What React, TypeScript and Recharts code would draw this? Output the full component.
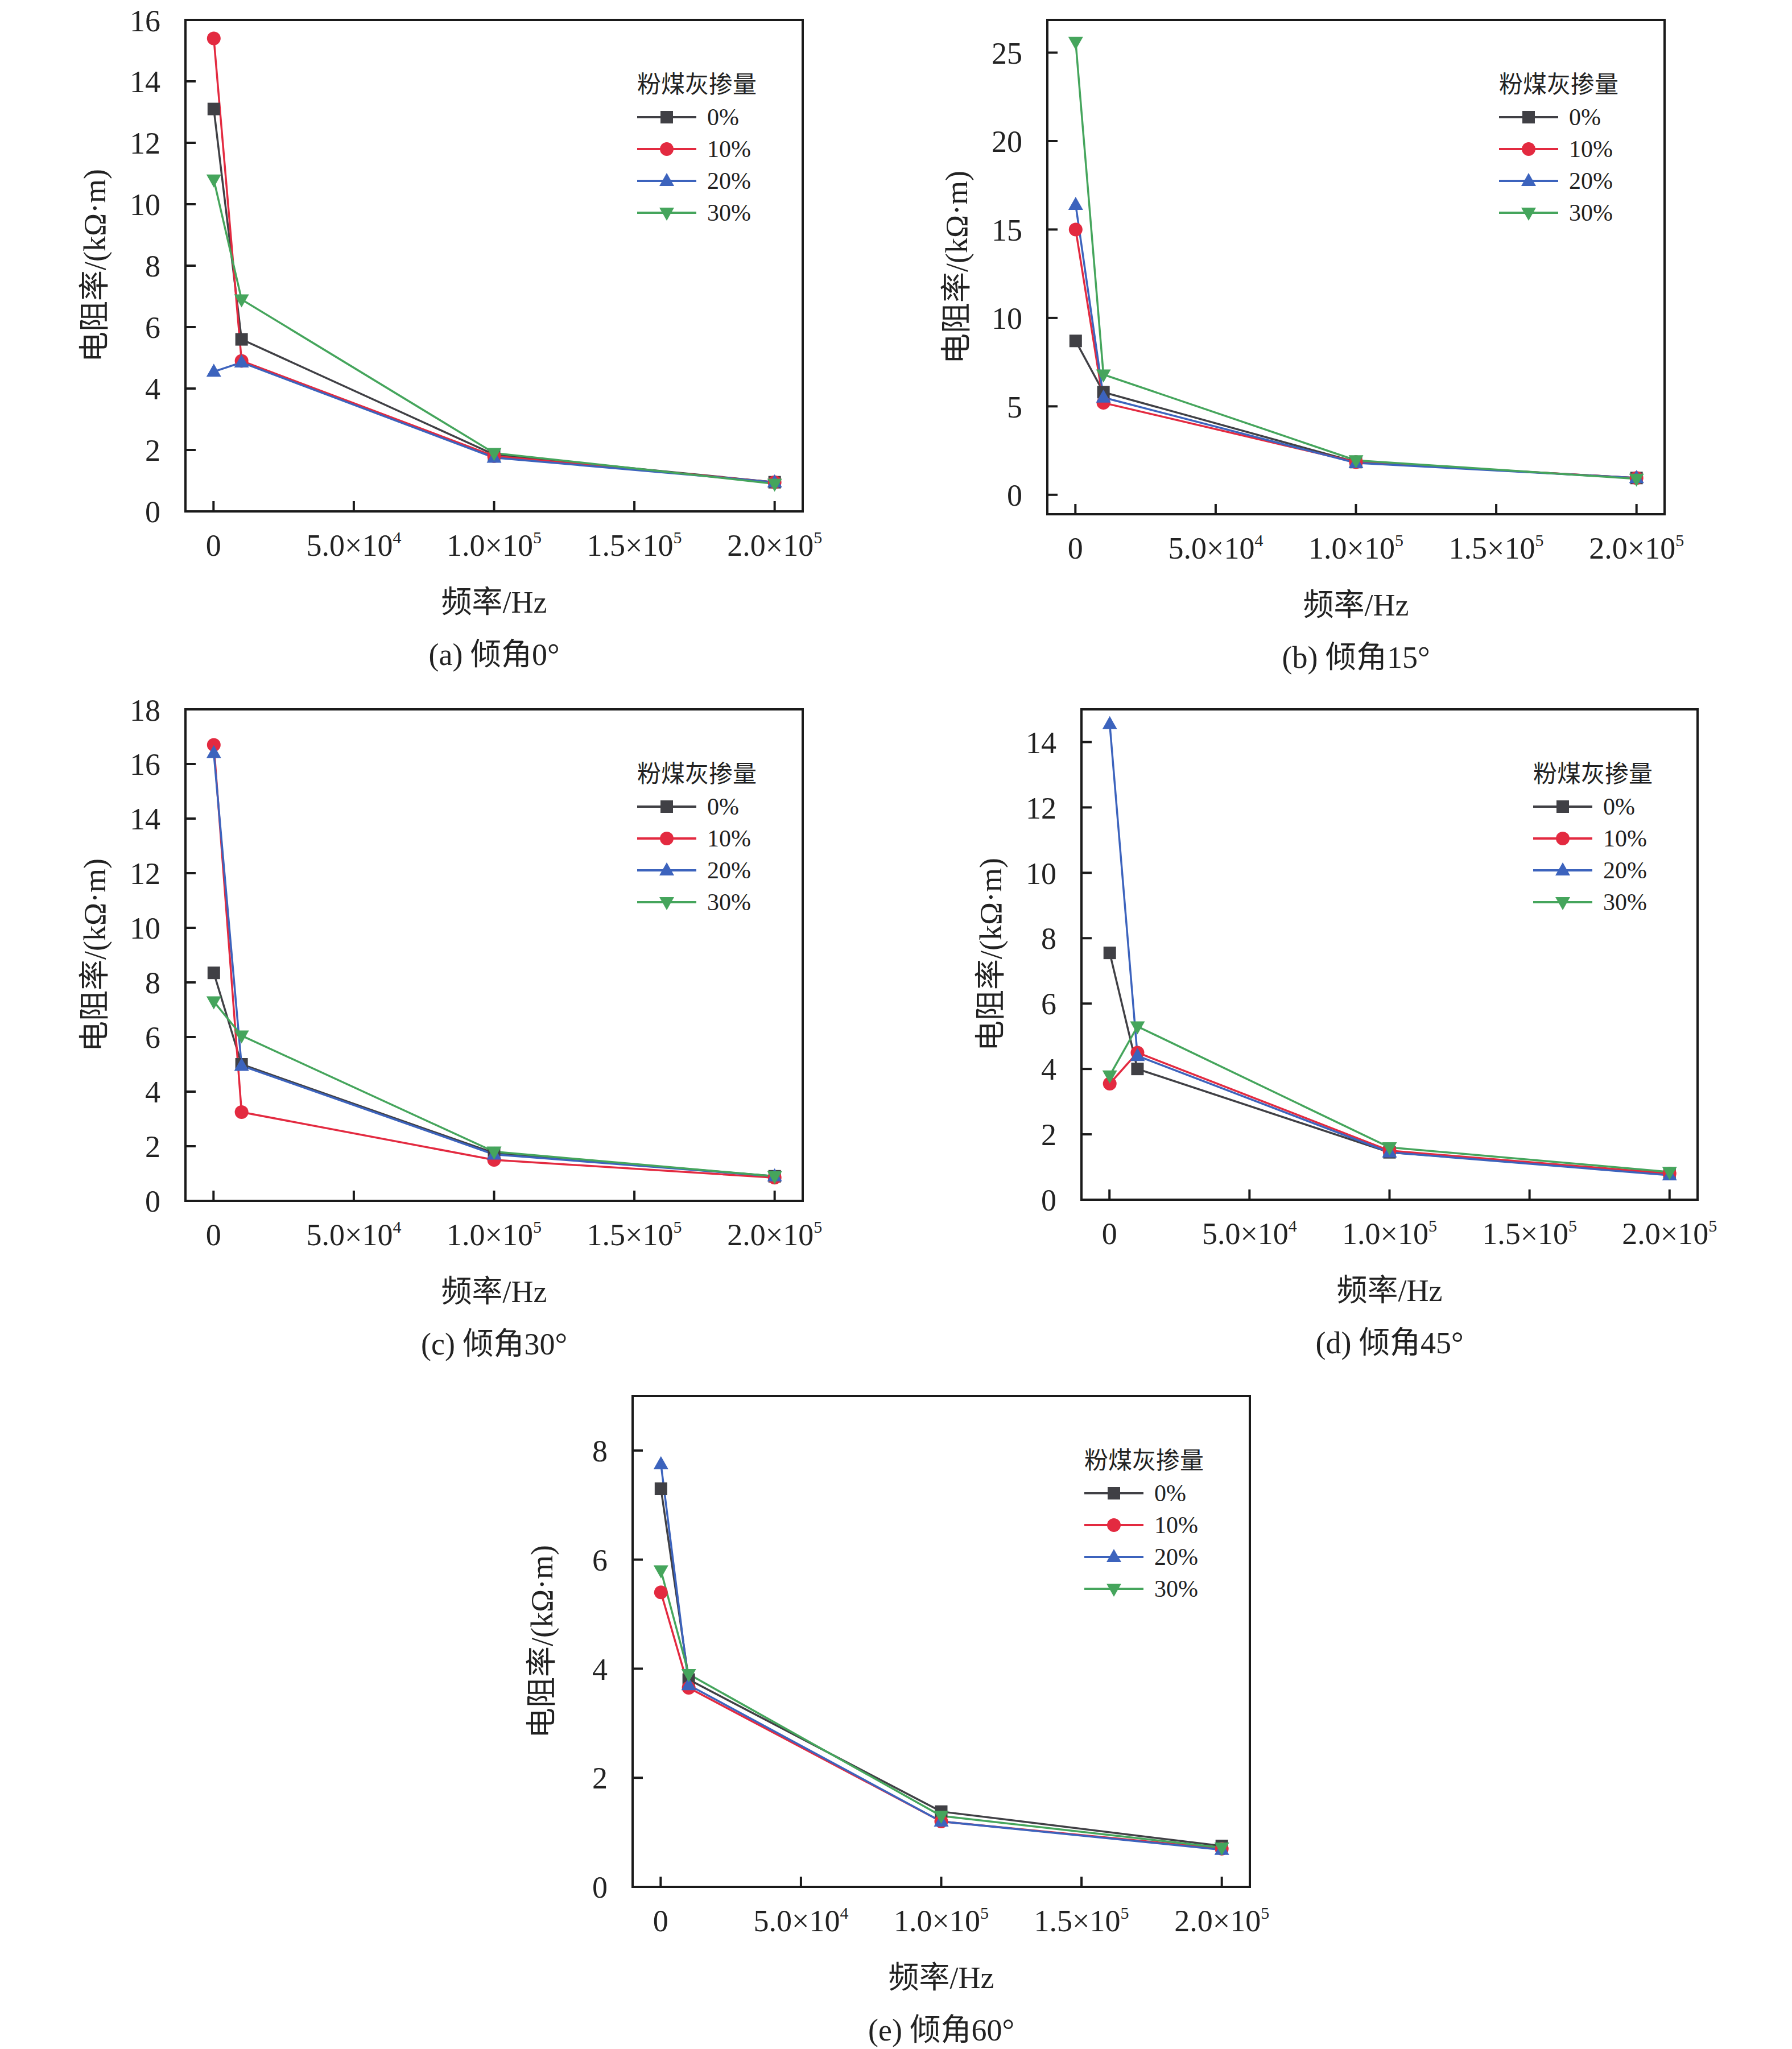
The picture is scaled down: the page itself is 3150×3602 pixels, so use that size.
import React from 'react';
import { LineChart, Line, XAxis, YAxis, ReferenceArea } from 'recharts';

// frequency points (Hz)
const FREQ = [100, 10000, 100000, 200000];
const X_TICKS = [0, 50000, 100000, 150000, 200000];

// (a) 倾角0°
const a0 = [13.1, 5.6, 1.85, 0.95];
const a10 = [15.4, 4.9, 1.8, 0.95];
const a20 = [4.55, 4.85, 1.75, 0.95];
const a30 = [10.8, 6.9, 1.9, 0.9];

// (b) 倾角15°
const b0 = [8.7, 5.8, 1.85, 0.95];
const b10 = [15.0, 5.2, 1.85, 0.95];
const b20 = [16.4, 5.5, 1.8, 0.95];
const b30 = [25.6, 6.8, 1.95, 0.9];

// (c) 倾角30°
const c0 = [8.35, 5.0, 1.75, 0.9];
const c10 = [16.7, 3.25, 1.5, 0.85];
const c20 = [16.4, 4.95, 1.7, 0.9];
const c30 = [7.3, 6.05, 1.8, 0.9];

// (d) 倾角45°
const d0 = [7.55, 4.0, 1.45, 0.8];
const d10 = [3.55, 4.5, 1.5, 0.8];
const d20 = [14.55, 4.4, 1.45, 0.75];
const d30 = [3.8, 5.3, 1.6, 0.85];

// (e) 倾角60°
const e0 = [7.3, 3.8, 1.38, 0.75];
const e10 = [5.4, 3.65, 1.2, 0.7];
const e20 = [7.75, 3.7, 1.2, 0.68];
const e30 = [5.8, 3.9, 1.3, 0.72];

const SERIES = [
  { key: 's0', name: '0%', color: '#404045', shape: 'square' },
  { key: 's10', name: '10%', color: '#e32a40', shape: 'circle' },
  { key: 's20', name: '20%', color: '#3c63bd', shape: 'up' },
  { key: 's30', name: '30%', color: '#45a55c', shape: 'down' },
];

const FONT = "'Liberation Serif', 'Noto Sans CJK SC', serif";
const TEXT = '#222';
const TICK_FS = 54;

function Marker({ cx, cy, shape, color }: any) {
  if (cx == null || cy == null) return null;
  if (shape === 'square')
    return <rect x={cx - 11} y={cy - 11} width={22} height={22} fill={color} />;
  if (shape === 'circle') return <circle cx={cx} cy={cy} r={12} fill={color} />;
  if (shape === 'up')
    return (
      <polygon
        points={`${cx},${cy - 14} ${cx + 13},${cy + 9} ${cx - 13},${cy + 9}`}
        fill={color}
      />
    );
  return (
    <polygon
      points={`${cx},${cy + 14} ${cx + 13},${cy - 9} ${cx - 13},${cy - 9}`}
      fill={color}
    />
  );
}

function XTick({ x, y, payload }: any) {
  const v = payload.value;
  if (v === 0) {
    return (
      <text x={x} y={y} dy="0.71em" textAnchor="middle" fontSize={TICK_FS} fill={TEXT} fontFamily={FONT}>
        0
      </text>
    );
  }
  const e = Math.floor(Math.log10(v));
  const m = (v / Math.pow(10, e)).toFixed(1);
  return (
    <text x={x} y={y} dy="0.71em" textAnchor="middle" fontSize={TICK_FS} fill={TEXT} fontFamily={FONT}>
      {m}×10
      <tspan dy={-22} fontSize={30}>
        {e}
      </tspan>
    </text>
  );
}

interface Box {
  L: number;
  R: number;
  T: number;
  B: number;
}

interface PanelProps {
  box: Box;
  yDomain: [number, number];
  yTicks: number[];
  s0: number[];
  s10: number[];
  s20: number[];
  s30: number[];
  caption: string;
}

const PAD_L = 200;
const PAD_R = 130;
const PAD_T = 30;
const PAD_B = 140;
const Y_W = 150;
const X_H = 120;

function Panel({ box, yDomain, yTicks, s0, s10, s20, s30, caption }: PanelProps) {
  const data = FREQ.map((f, i) => ({ f, s0: s0[i], s10: s10[i], s20: s20[i], s30: s30[i] }));
  const w = box.R - box.L + PAD_L + PAD_R;
  const h = box.B - box.T + PAD_T + PAD_B;
  const cx = (box.L + box.R) / 2;

  return (
    <>
      <div style={{ position: 'absolute', left: box.L - PAD_L, top: box.T - PAD_T }}>
        <LineChart
          width={w}
          height={h}
          data={data}
          margin={{ top: PAD_T, right: PAD_R, left: PAD_L - Y_W, bottom: PAD_B - X_H }}
        >
          <ReferenceArea
            x1={-10000}
            x2={210000}
            y1={yDomain[0]}
            y2={yDomain[1]}
            fill="none"
            stroke="#1a1a1a"
            strokeWidth={4}
          />
          <XAxis
            dataKey="f"
            type="number"
            domain={[-10000, 210000]}
            ticks={X_TICKS}
            height={X_H}
            stroke="#1a1a1a"
            strokeWidth={4}
            tickSize={-18}
            tickMargin={18 + 40}
            tick={<XTick />}
            allowDataOverflow
          />
          <YAxis
            type="number"
            domain={yDomain}
            ticks={yTicks}
            width={Y_W}
            stroke="#1a1a1a"
            strokeWidth={4}
            tickSize={-18}
            tickMargin={18 + 44}
            tick={{ fontSize: TICK_FS, fill: TEXT, fontFamily: FONT }}
            allowDataOverflow
          />
          {SERIES.map((s) => (
            <Line
              key={s.key}
              dataKey={s.key}
              name={s.name}
              type="linear"
              stroke={s.color}
              strokeWidth={3.5}
              isAnimationActive={false}
              dot={(p: any) => (
                <Marker key={`${s.key}-${p.index}`} cx={p.cx} cy={p.cy} shape={s.shape} color={s.color} />
              )}
              activeDot={false}
            />
          ))}
        </LineChart>
      </div>

      {/* legend */}
      <div
        style={{
          position: 'absolute',
          left: box.L + 794,
          top: box.T + 89,
          fontFamily: FONT,
          color: TEXT,
          fontSize: 42,
        }}
      >
        <div style={{ height: 50, lineHeight: '50px', whiteSpace: 'nowrap' }}>粉煤灰掺量</div>
        <div style={{ marginTop: 4 }}>
          {SERIES.map((s) => (
            <div key={s.key} style={{ display: 'flex', alignItems: 'center', height: 56 }}>
              <svg width={104} height={32}>
                <line x1={0} y1={16} x2={104} y2={16} stroke={s.color} strokeWidth={4} />
                <Marker cx={52} cy={16} shape={s.shape} color={s.color} />
              </svg>
              <span style={{ marginLeft: 19 }}>{s.name}</span>
            </div>
          ))}
        </div>
      </div>

      {/* axis titles and caption */}
      <div
        style={{
          position: 'absolute',
          left: box.L - 165,
          top: (box.T + box.B) / 2,
          transform: 'translate(-50%, -50%) rotate(-90deg)',
          whiteSpace: 'nowrap',
          fontFamily: FONT,
          fontSize: 54,
          color: TEXT,
        }}
      >
        电阻率/(kΩ·m)
      </div>
      <div
        style={{
          position: 'absolute',
          left: cx,
          top: box.B + 154,
          transform: 'translate(-50%, -50%)',
          whiteSpace: 'nowrap',
          fontFamily: FONT,
          fontSize: 54,
          color: TEXT,
        }}
      >
        频率/Hz
      </div>
      <div
        style={{
          position: 'absolute',
          left: cx,
          top: box.B + 246,
          transform: 'translate(-50%, -50%)',
          whiteSpace: 'nowrap',
          fontFamily: FONT,
          fontSize: 54,
          color: TEXT,
        }}
      >
        {caption}
      </div>
    </>
  );
}

export default function App() {
  return (
    <div
      style={{
        position: 'absolute',
        left: 0,
        top: 0,
        width: 3150,
        height: 3602,
        background: '#fff',
        overflow: 'hidden',
      }}
    >
      <Panel
        box={{ L: 326, R: 1411, T: 35, B: 899 }}
        yDomain={[0, 16]}
        yTicks={[0, 2, 4, 6, 8, 10, 12, 14, 16]}
        s0={a0}
        s10={a10}
        s20={a20}
        s30={a30}
        caption="(a) 倾角0°"
      />
      <Panel
        box={{ L: 1841, R: 2926, T: 35, B: 904 }}
        yDomain={[-1.1, 26.85]}
        yTicks={[0, 5, 10, 15, 20, 25]}
        s0={b0}
        s10={b10}
        s20={b20}
        s30={b30}
        caption="(b) 倾角15°"
      />
      <Panel
        box={{ L: 326, R: 1411, T: 1247, B: 2111 }}
        yDomain={[0, 18]}
        yTicks={[0, 2, 4, 6, 8, 10, 12, 14, 16, 18]}
        s0={c0}
        s10={c10}
        s20={c20}
        s30={c30}
        caption="(c) 倾角30°"
      />
      <Panel
        box={{ L: 1901, R: 2984, T: 1247, B: 2109 }}
        yDomain={[0, 15]}
        yTicks={[0, 2, 4, 6, 8, 10, 12, 14]}
        s0={d0}
        s10={d10}
        s20={d20}
        s30={d30}
        caption="(d) 倾角45°"
      />
      <Panel
        box={{ L: 1112, R: 2197, T: 2454, B: 3317 }}
        yDomain={[0, 9]}
        yTicks={[0, 2, 4, 6, 8]}
        s0={e0}
        s10={e10}
        s20={e20}
        s30={e30}
        caption="(e) 倾角60°"
      />
    </div>
  );
}
